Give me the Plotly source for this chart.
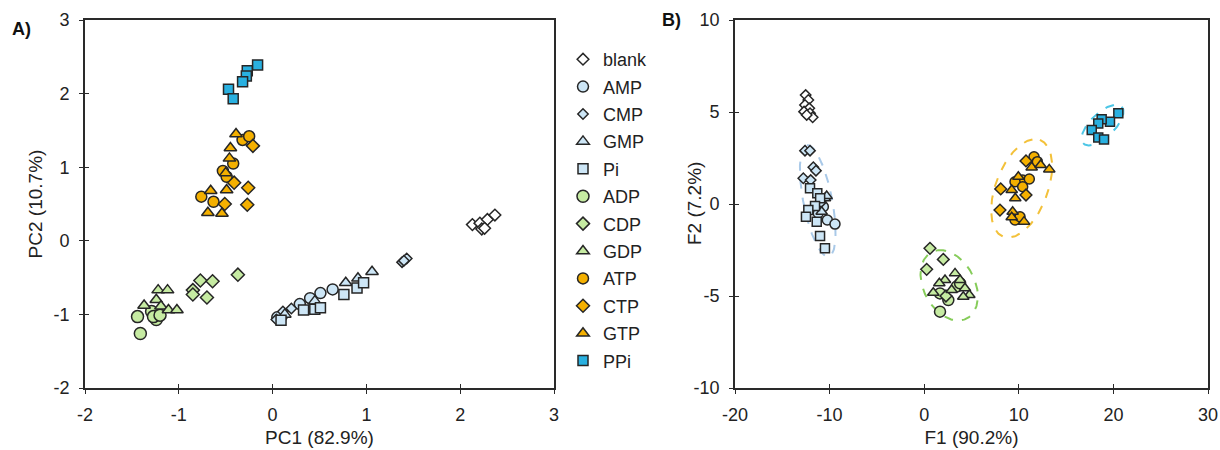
import numpy as np
import plotly.graph_objects as go

# ---- group names shared by both panels ----
groups = ["blank", "AMP", "CMP", "GMP", "Pi", "ADP", "CDP", "GDP", "ATP", "CTP", "GTP", "PPi"]

# ---- Panel A: PCA scores (PC1, PC2) ----
pca_blank_x = [2.13, 2.21, 2.29, 2.37, 2.23, 2.26]
pca_blank_y = [0.22, 0.24, 0.29, 0.35, 0.16, 0.17]
pca_amp_x = [0.10, 0.29, 0.40, 0.51, 0.64, 0.05]
pca_amp_y = [-1.02, -0.86, -0.78, -0.71, -0.66, -1.04]
pca_cmp_x = [0.04, 0.11, 0.20, 1.38, 1.43, 1.40]
pca_cmp_y = [-1.07, -0.96, -0.92, -0.29, -0.24, -0.27]
pca_gmp_x = [0.78, 0.91, 1.06, 0.45, 0.13]
pca_gmp_y = [-0.57, -0.51, -0.42, -0.82, -1.00]
pca_pi_x = [0.09, 0.33, 0.45, 0.51, 0.76, 0.90, 0.97]
pca_pi_y = [-1.08, -0.94, -0.93, -0.91, -0.73, -0.64, -0.57]
pca_adp_x = [-1.44, -1.29, -1.24, -1.27, -1.41, -1.20]
pca_adp_y = [-1.03, -0.96, -1.07, -1.03, -1.26, -1.01]
pca_cdp_x = [-0.37, -0.77, -0.64, -0.85, -0.85, -0.70]
pca_cdp_y = [-0.46, -0.54, -0.55, -0.67, -0.73, -0.77]
pca_gdp_x = [-1.22, -1.12, -1.24, -1.37, -1.19, -1.11, -1.02]
pca_gdp_y = [-0.67, -0.67, -0.80, -0.88, -0.89, -0.94, -0.94]
pca_atp_x = [-0.32, -0.25, -0.42, -0.53, -0.49, -0.76, -0.63]
pca_atp_y = [1.37, 1.42, 1.05, 0.95, 0.87, 0.60, 0.53]
pca_ctp_x = [-0.21, -0.41, -0.26, -0.51, -0.27]
pca_ctp_y = [1.29, 0.79, 0.72, 0.50, 0.49]
pca_gtp_x = [-0.39, -0.45, -0.46, -0.50, -0.49, -0.66, -0.69, -0.54]
pca_gtp_y = [1.45, 1.26, 1.12, 0.92, 0.69, 0.68, 0.38, 0.37]
pca_ppi_x = [-0.16, -0.27, -0.28, -0.32, -0.47, -0.42]
pca_ppi_y = [2.39, 2.31, 2.24, 2.16, 2.06, 1.93]

# ---- Panel B: discriminant scores (F1, F2) ----
lda_blank_x = [-12.53, -12.25, -12.60, -12.15, -12.70, -12.07, -11.79, -12.42]
lda_blank_y = [5.92, 5.65, 5.38, 5.20, 5.02, 4.93, 4.71, 4.84]
lda_amp_x = [-10.24, -9.43, -10.66, -11.20]
lda_amp_y = [-0.87, -1.09, -0.15, -0.50]
lda_cmp_x = [-12.60, -12.07, -11.72, -11.44, -12.78, -12.00, -10.90]
lda_cmp_y = [2.90, 2.90, 2.00, 1.81, 1.40, 1.30, 0.10]
lda_gmp_x = [-10.49, -10.31, -10.84]
lda_gmp_y = [0.31, 0.43, -0.42]
lda_pi_x = [-12.07, -11.30, -11.00, -11.54, -12.25, -12.50, -11.36, -11.01, -10.49]
lda_pi_y = [0.85, 0.58, 0.31, -0.11, -0.33, -0.69, -0.96, -1.74, -2.41]
lda_adp_x = [3.43, 2.55, 1.67, 3.79, 1.67]
lda_adp_y = [-4.49, -5.22, -4.86, -4.31, -5.85]
lda_cdp_x = [0.61, 2.02, 0.26, 2.30]
lda_cdp_y = [-2.41, -3.01, -3.55, -5.00]
lda_gdp_x = [3.26, 2.20, 3.79, 0.96, 2.90, 4.31, 4.77, 4.13, 1.60]
lda_gdp_y = [-3.77, -4.13, -4.13, -4.82, -4.67, -4.58, -4.95, -5.04, -4.31]
lda_atp_x = [11.61, 11.96, 10.41, 11.11, 9.60, 10.41, 9.60, 10.13]
lda_atp_y = [2.57, 2.30, 1.30, 1.36, 1.21, 0.94, -0.87, -0.69]
lda_ctp_x = [10.76, 8.09, 10.76, 8.01]
lda_ctp_y = [2.34, 0.82, 0.49, -0.33]
lda_gtp_x = [11.36, 12.31, 13.22, 9.95, 9.25, 9.63, 9.35, 9.25, 10.55]
lda_gtp_y = [1.99, 2.12, 1.88, 1.48, 0.76, 0.31, -0.42, -0.72, -0.96]
lda_ppi_x = [20.52, 19.64, 18.76, 18.40, 17.71, 18.40, 19.01]
lda_ppi_y = [4.93, 4.47, 4.60, 4.38, 4.02, 3.62, 3.51]

# tick values / labels (hyphen-minus as printed on the axes)
pca_ticks = [-2, -1, 0, 1, 2, 3]
f1_ticks = [-20, -10, 0, 10, 20, 30]
f2_ticks = [-10, -5, 0, 5, 10]

# confidence ellipses: centre (x, y) and two conjugate half-axis vectors in data units
ell_centre = [(-11.25, 0.17), (2.64, -4.42), (10.30, 0.85), (18.85, 4.29)]
ell_u = [(-1.15, 3.03), (-1.27, 1.90), (1.94, 2.63), (2.03, 1.00)]
ell_v = [(1.50, 0.15), (2.75, 0.22), (2.57, -0.50), (0.88, -0.47)]
ell_colour = ["#a9c9e8", "#86cc5a", "#f3c13a", "#4cc6e6"]

pca_data = [
    (pca_blank_x, pca_blank_y), (pca_amp_x, pca_amp_y), (pca_cmp_x, pca_cmp_y),
    (pca_gmp_x, pca_gmp_y), (pca_pi_x, pca_pi_y), (pca_adp_x, pca_adp_y),
    (pca_cdp_x, pca_cdp_y), (pca_gdp_x, pca_gdp_y), (pca_atp_x, pca_atp_y),
    (pca_ctp_x, pca_ctp_y), (pca_gtp_x, pca_gtp_y), (pca_ppi_x, pca_ppi_y),
]
lda_data = [
    (lda_blank_x, lda_blank_y), (lda_amp_x, lda_amp_y), (lda_cmp_x, lda_cmp_y),
    (lda_gmp_x, lda_gmp_y), (lda_pi_x, lda_pi_y), (lda_adp_x, lda_adp_y),
    (lda_cdp_x, lda_cdp_y), (lda_gdp_x, lda_gdp_y), (lda_atp_x, lda_atp_y),
    (lda_ctp_x, lda_ctp_y), (lda_gtp_x, lda_gtp_y), (lda_ppi_x, lda_ppi_y),
]

LIGHT_BLUE = "#cde6f6"
GREEN = "#c6eba2"
ORANGE = "#f4b000"
CYAN = "#29b0e0"
EDGE = "#262626"

fills = ["#ffffff", LIGHT_BLUE, LIGHT_BLUE, LIGHT_BLUE, LIGHT_BLUE,
         GREEN, GREEN, GREEN, ORANGE, ORANGE, ORANGE, CYAN]
symbols = ["diamond", "circle", "diamond", "triangle-up", "square",
           "circle", "diamond", "triangle-up", "circle", "diamond", "triangle-up", "square"]
sizes = [9, 11, 8, 11, 10, 12, 10, 11, 11, 10, 11, 10]
sizes_b = [8, 10, 8, 10, 9, 11, 9, 10, 10, 9, 10, 9]

FONT = "Liberation Sans, Arial, sans-serif"
TXT = "#222222"

fig = go.Figure()

# ellipses first so points sit above them
t = np.linspace(0, 2 * np.pi, 200)
for c, u, v, col in zip(ell_centre, ell_u, ell_v, ell_colour):
    ex = c[0] + u[0] * np.cos(t) + v[0] * np.sin(t)
    ey = c[1] + u[1] * np.cos(t) + v[1] * np.sin(t)
    fig.add_trace(go.Scatter(x=ex, y=ey, mode="lines", xaxis="x2", yaxis="y2",
                             line=dict(color=col, width=2, dash="dash"),
                             showlegend=False, hoverinfo="skip"))

for i, g in enumerate(groups):
    fig.add_trace(go.Scatter(
        x=pca_data[i][0], y=pca_data[i][1], mode="markers", name=g, legendgroup=g,
        marker=dict(symbol=symbols[i], size=sizes[i], color=fills[i],
                    line=dict(color=EDGE, width=1.5)),
        xaxis="x", yaxis="y"))
    fig.add_trace(go.Scatter(
        x=lda_data[i][0], y=lda_data[i][1], mode="markers", name=g, legendgroup=g,
        showlegend=False,
        marker=dict(symbol=symbols[i], size=sizes_b[i], color=fills[i],
                    line=dict(color=EDGE, width=1.5)),
        xaxis="x2", yaxis="y2"))

# empty traces so the inner-tick overlay axes are rendered
fig.add_trace(go.Scatter(x=[], y=[], xaxis="x3", yaxis="y3", showlegend=False))
fig.add_trace(go.Scatter(x=[], y=[], xaxis="x4", yaxis="y4", showlegend=False))

dom_ax = [85 / 1220, 554 / 1220]
dom_bx = [735 / 1220, 1208 / 1220]
dom_y = [1 - 388 / 450, 1 - 20 / 450]


def labels(vals):
    return [str(v) for v in vals]


axis_common = dict(showgrid=False, zeroline=False, showline=True, linecolor="#2a2a2a",
                   linewidth=1.6, mirror=True, ticks="outside", ticklen=4,
                   tickcolor="#2a2a2a", tickwidth=1.4, ticklabelstandoff=6,
                   automargin=False,
                   tickfont=dict(family=FONT, size=18, color=TXT))
overlay_common = dict(showgrid=False, zeroline=False, showline=False, ticks="inside",
                      ticklen=4, tickcolor="#2a2a2a", tickwidth=1.4, showticklabels=False,
                      automargin=False)
title_font = dict(family=FONT, size=19, color=TXT)

fig.update_layout(
    width=1220, height=450, margin=dict(l=0, r=0, t=0, b=0, autoexpand=False),
    paper_bgcolor="white", plot_bgcolor="white",
    font=dict(family=FONT, color=TXT),
    xaxis=dict(domain=dom_ax, range=[-2, 3], tickvals=pca_ticks, ticktext=labels(pca_ticks),
               anchor="y", title=dict(text="PC1 (82.9%)", font=title_font, standoff=6),
               **axis_common),
    yaxis=dict(domain=dom_y, range=[-2, 3], tickvals=pca_ticks, ticktext=labels(pca_ticks),
               anchor="x", title=dict(text="PC2 (10.7%)", font=title_font, standoff=6),
               **axis_common),
    xaxis2=dict(domain=dom_bx, range=[-20, 30], tickvals=f1_ticks, ticktext=labels(f1_ticks),
                anchor="y2", title=dict(text="F1 (90.2%)", font=title_font, standoff=6),
                **axis_common),
    yaxis2=dict(domain=dom_y, range=[-10, 10], tickvals=f2_ticks, ticktext=labels(f2_ticks),
                anchor="x2", **axis_common),
    xaxis3=dict(overlaying="x", range=[-2, 3], tickvals=pca_ticks, anchor="y", **overlay_common),
    yaxis3=dict(overlaying="y", range=[-2, 3], tickvals=pca_ticks, anchor="x", **overlay_common),
    xaxis4=dict(overlaying="x2", range=[-20, 30], tickvals=f1_ticks, anchor="y2", **overlay_common),
    yaxis4=dict(overlaying="y2", range=[-10, 10], tickvals=f2_ticks, anchor="x2", **overlay_common),
    legend=dict(x=563 / 1220, y=1 - 41 / 450, xanchor="left", yanchor="top",
                font=dict(family=FONT, size=18, color=TXT),
                tracegroupgap=1, itemwidth=30, bgcolor="rgba(0,0,0,0)"),
    annotations=[
        dict(text="<b>A)</b>", x=10 / 1220, y=1 - 29 / 450, xref="paper", yref="paper",
             showarrow=False, xanchor="left", yanchor="middle",
             font=dict(family=FONT, size=18, color="#111")),
        dict(text="<b>B)</b>", x=660 / 1220, y=1 - 20 / 450, xref="paper", yref="paper",
             showarrow=False, xanchor="left", yanchor="middle",
             font=dict(family=FONT, size=18, color="#111")),
        # F2 axis title sits close to the tick labels
        dict(text="F2 (7.2%)", x=694 / 1220, y=1 - 204 / 450, xref="paper", yref="paper",
             showarrow=False, xanchor="center", yanchor="middle", textangle=-90,
             font=title_font),
    ],
)

fig.write_html("out.html")
